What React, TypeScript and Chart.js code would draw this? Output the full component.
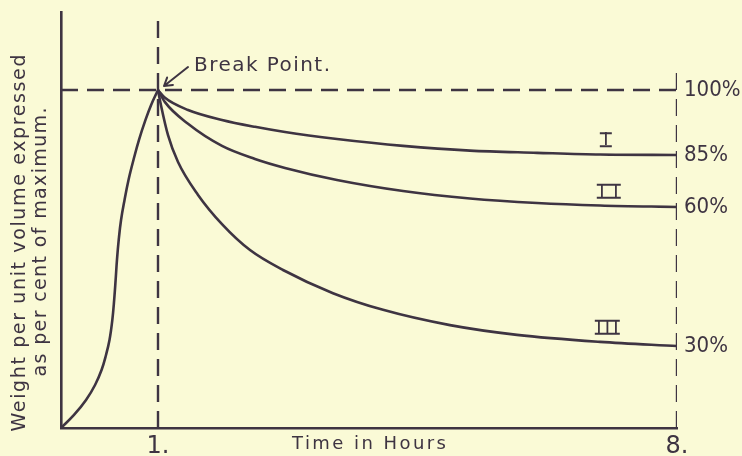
import React, { useEffect, useRef } from 'react';
import { Chart, registerables, LinearScale } from 'chart.js';

// ---------- data (hours, per cent of maximum) ----------
const HOURS_RISE = [0, 0.134, 0.258, 0.351, 0.418, 0.464, 0.5, 0.529, 0.548, 0.563, 0.577, 0.595, 0.619, 0.655, 0.696, 0.747, 0.804, 0.871, 0.928, 1];
const PCT_RISE = [0, 4.76, 10.24, 15.73, 21.22, 26.71, 31.3, 35.6, 39.9, 44.2, 48.6, 52.9, 57.2, 63.4, 73.0, 82.6, 88.5, 93.1, 96.5, 100];

const HOURS_I = [1, 1.094, 1.405, 1.863, 2.308, 2.713, 3.414, 4.305, 5.208, 6.112, 6.962, 8];
const PCT_I = [100, 98.2, 95.4, 93.1, 91.5, 90.3, 88.7, 87.1, 86.0, 85.5, 85.1, 85];

const HOURS_II = [1, 1.094, 1.405, 1.863, 2.308, 2.713, 3.414, 4.305, 5.208, 6.112, 6.962, 8];
const PCT_II = [100, 97.2, 92.2, 87.1, 83.1, 78.8, 73.0, 67.7, 64.1, 61.9, 60.7, 60];

const HOURS_III = [1, 1.04, 1.135, 1.27, 1.54, 1.863, 2.241, 2.686, 3.36, 4.035, 4.938, 5.842, 6.962, 8];
const PCT_III = [100, 96.5, 89.6, 81.6, 65.8, 56.3, 50.7, 46.4, 41.4, 37.8, 34.5, 32.4, 30.9, 30];

const SERIES_NAMES = ['I', 'II', 'III'];
const SERIES_LABEL_HOURS = [7.04, 7.08, 7.06];
const SERIES_LABEL_PCT = [85.2, 60.6, 30.9];

const HOUR_TICKS = [1, 8];
const HOUR_TICK_LABELS = ['1.', '8.'];
const PCT_TICKS = [100, 85, 60, 30];
const PCT_TICK_LABELS = ['100%', '85%', '60%', '30%'];

const BREAK_HOUR = 1;
const BREAK_PCT = 100;
const END_HOUR = 8;
const Y_MAX = 118;
const END_LINE_TOP = 105;

const X_TITLE = 'Time in Hours';
const Y_TITLE = ['Weight per unit volume expressed', 'as per cent of maximum.'];
const BREAK_LABEL = 'Break Point.';

// ---------- style ----------
const INK = '#3e3442';
const PAPER = '#fafad6';
const HAND = '"DejaVu Sans", "Noto Sans", sans-serif';

// The original drawing is not to scale: each axis is piecewise linear between these anchors
// [value, fraction of axis length]
const KNOTS: Record<string, number[][]> = {
  x: [[0, 0], [1, 97 / 616], [8, 1]],
  y: [[0, 0], [30, 82 / 416], [60, 221 / 416], [85, 273 / 416], [100, 338 / 416], [118, 1]],
};
KNOTS.yR = KNOTS.y;

function toDec(v: number, k: number[][]) {
  for (let i = 1; i < k.length; i++) {
    const [v0, d0] = k[i - 1];
    const [v1, d1] = k[i];
    if (v <= v1 || i === k.length - 1) return d0 + ((v - v0) / (v1 - v0)) * (d1 - d0);
  }
  return 0;
}
function fromDec(d: number, k: number[][]) {
  for (let i = 1; i < k.length; i++) {
    const [v0, d0] = k[i - 1];
    const [v1, d1] = k[i];
    if (d <= d1 || i === k.length - 1) return v0 + ((d - d0) / (d1 - d0)) * (v1 - v0);
  }
  return 0;
}

class PiecewiseScale extends LinearScale {
  static id = 'piecewise';
  getPixelForValue(value: any) {
    if (value === null || value === undefined || Number.isNaN(+value)) return NaN;
    return (this as any).getPixelForDecimal(toDec(+value, KNOTS[(this as any).id]));
  }
  getValueForPixel(pixel: number) {
    return fromDec((this as any).getDecimalForPixel(pixel), KNOTS[(this as any).id]);
  }
}

Chart.register(...registerables, PiecewiseScale as any);

const zip = (xs: number[], ys: number[]) => xs.map((x, i) => ({ x, y: ys[i] }));

function spacedText(ctx: CanvasRenderingContext2D, text: string, cx: number, cy: number, width: number, font: string) {
  ctx.font = font;
  (ctx as any).letterSpacing = '0px';
  const w = ctx.measureText(text).width;
  const n = text.length;
  const sp = n > 1 ? (width - w) / (n - 1) : 0;
  (ctx as any).letterSpacing = `${sp}px`;
  ctx.textAlign = 'left';
  ctx.textBaseline = 'middle';
  ctx.fillText(text, cx - width / 2, cy);
  (ctx as any).letterSpacing = '0px';
}

const noPad = (s: any) => {
  s.paddingTop = 0;
  s.paddingBottom = 0;
  s.paddingLeft = 0;
  s.paddingRight = 0;
};

const annotations = {
  id: 'annotations',
  afterDraw(chart: any) {
    const { ctx, scales, chartArea } = chart;
    const xs = scales.x;
    const ys = scales.y;
    ctx.save();
    ctx.fillStyle = INK;
    ctx.strokeStyle = INK;

    // x title, on the tick row
    spacedText(ctx, X_TITLE, (chartArea.left + chartArea.right) / 2, 444, 154, `18px ${HAND}`);

    // y title, two rotated lines
    const yLines = [
      { x: 20, y: 243, w: 377 },
      { x: 41, y: 242, w: 269 },
    ];
    Y_TITLE.forEach((t, i) => {
      ctx.save();
      ctx.translate(yLines[i].x, yLines[i].y);
      ctx.rotate(-Math.PI / 2);
      spacedText(ctx, t, 0, 0, yLines[i].w, `19px ${HAND}`);
      ctx.restore();
    });

    // break point label and arrow
    const bx = xs.getPixelForValue(BREAK_HOUR);
    const by = ys.getPixelForValue(BREAK_PCT);
    spacedText(ctx, BREAK_LABEL, bx + 36 + 68, by - 24, 136, `20px ${HAND}`);
    const tipX = bx + 6, tipY = by - 4, tailX = bx + 30, tailY = by - 23;
    ctx.lineWidth = 2;
    ctx.lineCap = 'round';
    ctx.beginPath();
    ctx.moveTo(tailX, tailY);
    ctx.lineTo(tipX, tipY);
    const ang = Math.atan2(tailY - tipY, tailX - tipX);
    for (const s of [-0.55, 0.55]) {
      ctx.moveTo(tipX, tipY);
      ctx.lineTo(tipX + 9 * Math.cos(ang + s), tipY + 9 * Math.sin(ang + s));
    }
    ctx.stroke();

    // series numerals: upright strokes joined by top and bottom bars
    const strokeGap = [0, 14, 8.5];
    const barWidth = [12, 24, 25];
    const capH = 13;
    ctx.font = `18px ${HAND}`;
    ctx.textBaseline = 'middle';
    ctx.textAlign = 'left';
    SERIES_NAMES.forEach((name, i) => {
      const cx = xs.getPixelForValue(SERIES_LABEL_HOURS[i]);
      const cy = ys.getPixelForValue(SERIES_LABEL_PCT[i]) - 14.5;
      (ctx as any).letterSpacing = '0px';
      const adv = ctx.measureText('I').width;
      const n = name.length;
      (ctx as any).letterSpacing = n > 1 ? `${strokeGap[i] - adv}px` : '0px';
      ctx.fillText(name, cx - ((n - 1) * (n > 1 ? strokeGap[i] : 0)) / 2 - adv / 2, cy + 1);
      (ctx as any).letterSpacing = '0px';
      ctx.lineWidth = 2;
      ctx.lineCap = 'butt';
      ctx.beginPath();
      ctx.moveTo(cx - barWidth[i] / 2, cy - capH / 2);
      ctx.lineTo(cx + barWidth[i] / 2, cy - capH / 2);
      ctx.moveTo(cx - barWidth[i] / 2, cy + capH / 2);
      ctx.lineTo(cx + barWidth[i] / 2, cy + capH / 2);
      ctx.stroke();
    });
    ctx.restore();
  },
};

export default function App() {
  const ref = useRef<HTMLCanvasElement>(null);
  useEffect(() => {
    document.body.style.margin = '0';
    document.body.style.background = PAPER;
    const base = {
      borderColor: INK,
      borderWidth: 2.6,
      pointRadius: 0,
      fill: false,
    };
    const rise = { ...base, tension: 0.4 };
    const decay = { ...base, cubicInterpolationMode: 'monotone' as const };
    const dashed = {
      borderColor: INK,
      borderWidth: 2.4,
      pointRadius: 0,
      borderDash: [17, 9],
      tension: 0,
      fill: false,
    };
    const chart = new Chart(ref.current as HTMLCanvasElement, {
      type: 'line',
      data: {
        datasets: [
          { label: 'rise', data: zip(HOURS_RISE, PCT_RISE), ...rise },
          { label: SERIES_NAMES[0], data: zip(HOURS_I, PCT_I), ...decay },
          { label: SERIES_NAMES[1], data: zip(HOURS_II, PCT_II), ...decay },
          { label: SERIES_NAMES[2], data: zip(HOURS_III, PCT_III), ...decay },
          { label: 'break', data: [{ x: BREAK_HOUR, y: 0 }, { x: BREAK_HOUR, y: Y_MAX }], ...dashed },
          { label: 'max', data: [{ x: 0, y: BREAK_PCT }, { x: END_HOUR, y: BREAK_PCT }], ...dashed },
          { label: 'end', data: [{ x: END_HOUR, y: 0 }, { x: END_HOUR, y: END_LINE_TOP }], ...dashed },
        ] as any,
      },
      options: {
        responsive: false,
        animation: false,
        events: [],
        layout: { padding: { top: 12, left: 0, right: 0, bottom: 0 } },
        plugins: { legend: { display: false }, tooltip: { enabled: false } },
        scales: {
          x: {
            type: 'piecewise' as any,
            axis: 'x',
            position: 'bottom',
            min: 0,
            max: END_HOUR,
            border: { display: true, color: INK, width: 2.6 },
            grid: { display: false, drawTicks: false },
            afterBuildTicks: (s: any) => {
              s.ticks = HOUR_TICKS.map((v) => ({ value: v }));
            },
            afterFit: (s: any) => {
              s.height = 28;
              noPad(s);
            },
            ticks: {
              autoSkip: false,
              maxRotation: 0,
              padding: 4,
              color: INK,
              font: { family: HAND, size: 24 },
              callback: (_v: any, i: number) => HOUR_TICK_LABELS[i],
            },
          },
          y: {
            type: 'piecewise' as any,
            axis: 'y',
            position: 'left',
            min: 0,
            max: Y_MAX,
            border: { display: true, color: INK, width: 2.6 },
            grid: { display: false, drawTicks: false },
            ticks: { display: false },
            afterFit: (s: any) => {
              s.width = 61;
              noPad(s);
            },
          },
          yR: {
            type: 'piecewise' as any,
            axis: 'y',
            position: 'right',
            min: 0,
            max: Y_MAX,
            border: { display: false },
            grid: { display: false, drawTicks: false },
            afterBuildTicks: (s: any) => {
              s.ticks = PCT_TICKS.map((v) => ({ value: v }));
            },
            afterFit: (s: any) => {
              s.width = 65;
              noPad(s);
            },
            ticks: {
              autoSkip: false,
              padding: 7,
              color: INK,
              font: { family: '"DejaVu Sans Condensed", "DejaVu Sans", sans-serif', size: 22 },
              callback: (_v: any, i: number) => PCT_TICK_LABELS[i],
            },
          },
        } as any,
      },
      plugins: [annotations],
    });
    return () => chart.destroy();
  }, []);
  return (
    <div style={{ position: 'fixed', left: 0, top: 0, width: 742, height: 456, background: PAPER }}>
      <canvas ref={ref} width={742} height={456} style={{ display: 'block', width: 742, height: 456 }} />
    </div>
  );
}
